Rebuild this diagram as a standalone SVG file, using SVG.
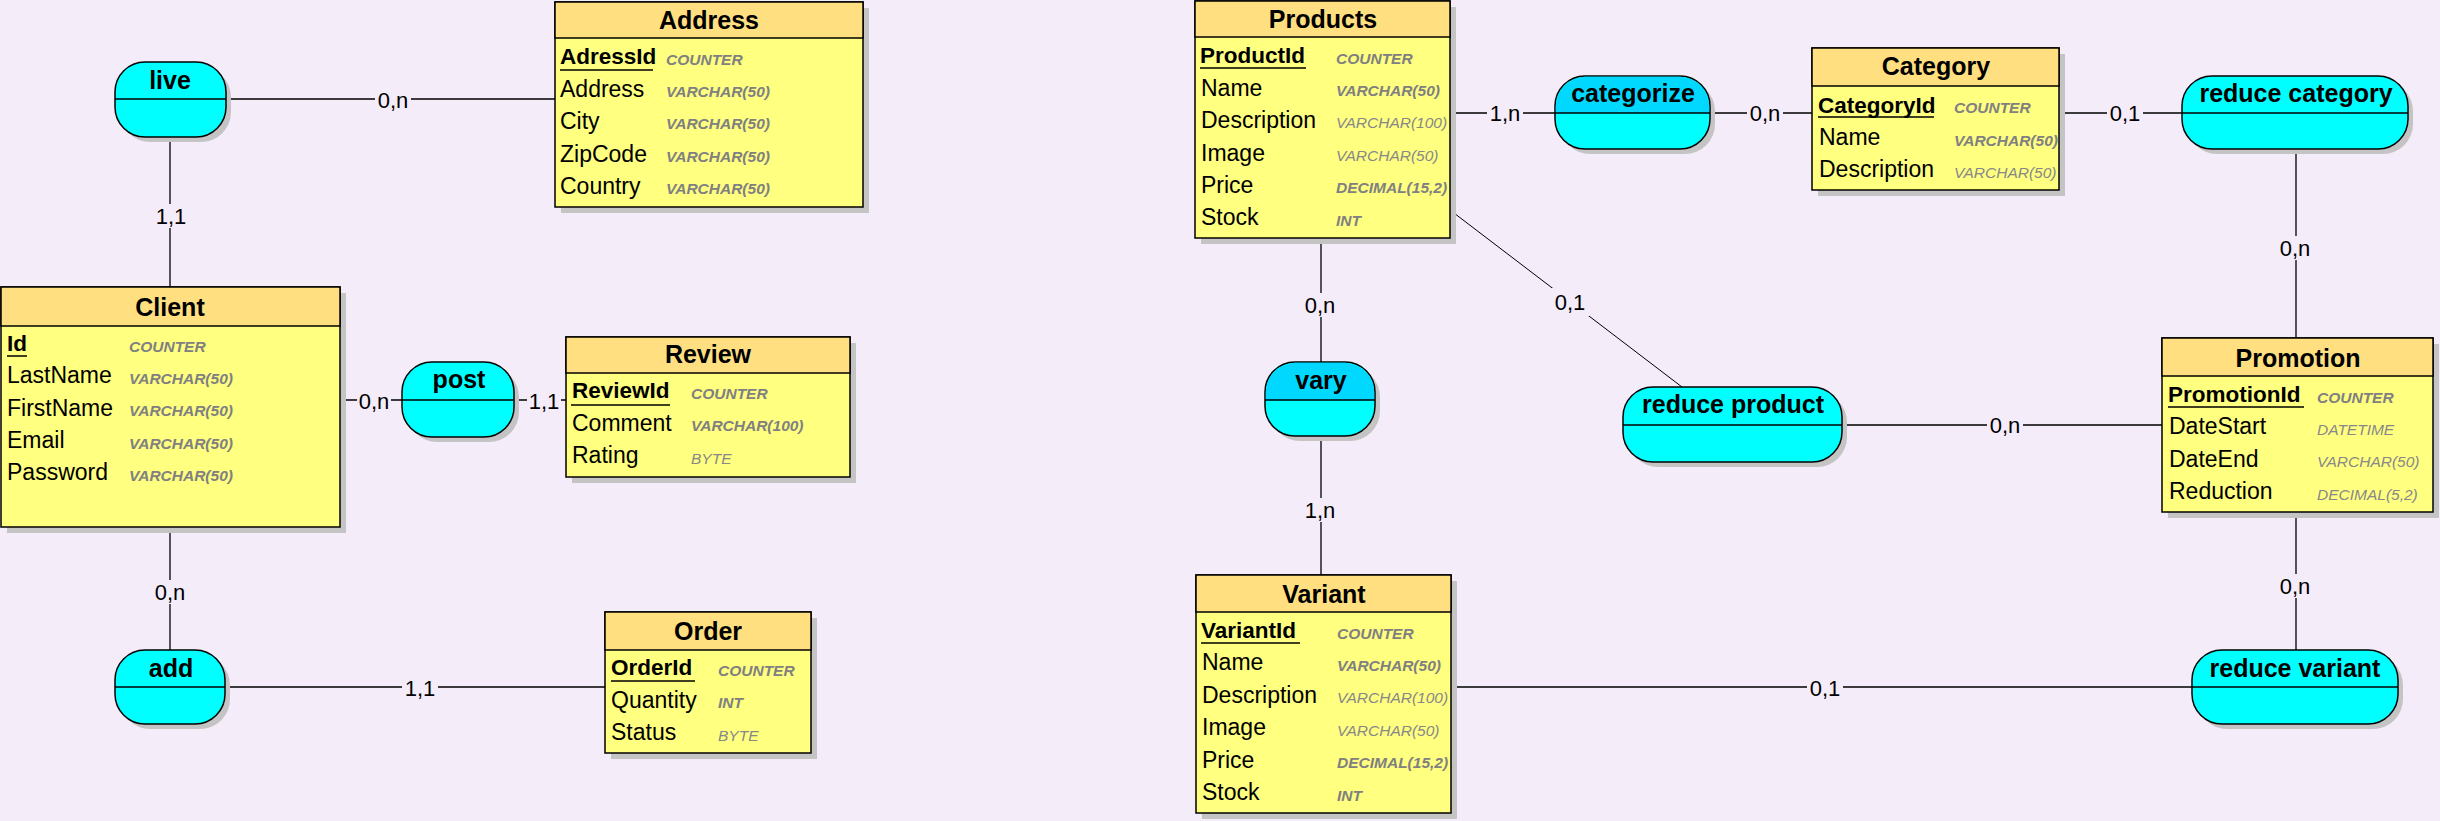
<svg xmlns="http://www.w3.org/2000/svg" width="2440" height="821" viewBox="0 0 2440 821">
<style>
.bg{fill:#f4ecf8}
.sh{fill:#c4c4c4}
.hd{fill:#ffdf80;stroke:#000;stroke-width:1.5}
.bd{fill:#ffff80;stroke:#000;stroke-width:1.5}
.as{fill:#00ffff;stroke:#000;stroke-width:1.5}
.ast{fill:#00d8ff}
.dv{stroke:#000;stroke-width:1.3}
.t{font-family:"Liberation Sans",Arial,sans-serif;font-weight:bold;font-size:25px;text-anchor:middle;fill:#000}
.f{font-family:"Liberation Sans",Arial,sans-serif;font-size:23px;fill:#000}
.k{font-family:"Liberation Sans",Arial,sans-serif;font-size:22.5px;font-weight:bold;fill:#000}
.ty{font-family:"Liberation Sans",Arial,sans-serif;font-size:15.5px;font-style:italic;font-weight:bold;fill:#808080}
.tl{font-family:"Liberation Sans",Arial,sans-serif;font-size:15.5px;font-style:italic;fill:#888888}
.ul{stroke:#000;stroke-width:1.5}
.c{stroke:#000;stroke-width:1.3;fill:none}
.cd{stroke:#000;stroke-width:1;fill:none}
.lb{font-family:"Liberation Sans",Arial,sans-serif;font-size:22px;text-anchor:middle;fill:#000}
</style>
<rect class="bg" x="0" y="0" width="2440" height="821"/>

<g id="connectors">
<line class="c" x1="226" y1="99" x2="555" y2="99"/>
<rect class="bg" x="375" y="89" width="36" height="22"/>
<text class="lb" x="393" y="108">0,n</text>
<line class="c" x1="170" y1="137" x2="170" y2="287"/>
<rect class="bg" x="153" y="204" width="36" height="24"/>
<text class="lb" x="171" y="224">1,1</text>
<line class="c" x1="340" y1="400" x2="402" y2="400"/>
<rect class="bg" x="357" y="390" width="34" height="22"/>
<text class="lb" x="374" y="409">0,n</text>
<line class="c" x1="514" y1="400" x2="566" y2="400"/>
<rect class="bg" x="527" y="390" width="34" height="22"/>
<text class="lb" x="544" y="409">1,1</text>
<line class="c" x1="170" y1="527" x2="170" y2="650"/>
<rect class="bg" x="152" y="580" width="36" height="24"/>
<text class="lb" x="170" y="600">0,n</text>
<line class="c" x1="225" y1="687" x2="605" y2="687"/>
<rect class="bg" x="402" y="677" width="36" height="22"/>
<text class="lb" x="420" y="696">1,1</text>
<line class="c" x1="1450" y1="113" x2="1555" y2="113"/>
<rect class="bg" x="1487" y="103" width="36" height="22"/>
<text class="lb" x="1505" y="121">1,n</text>
<line class="c" x1="1710" y1="113" x2="1812" y2="113"/>
<rect class="bg" x="1747" y="103" width="36" height="22"/>
<text class="lb" x="1765" y="121">0,n</text>
<line class="c" x1="2059" y1="113" x2="2182" y2="113"/>
<rect class="bg" x="2107" y="103" width="36" height="22"/>
<text class="lb" x="2125" y="121">0,1</text>
<line class="c" x1="2296" y1="149" x2="2296" y2="338"/>
<rect class="bg" x="2277" y="236" width="36" height="24"/>
<text class="lb" x="2295" y="256">0,n</text>
<line class="c" x1="1321" y1="238" x2="1321" y2="362"/>
<rect class="bg" x="1302" y="293" width="36" height="24"/>
<text class="lb" x="1320" y="313">0,n</text>
<line class="c" x1="1321" y1="436" x2="1321" y2="575"/>
<rect class="bg" x="1302" y="498" width="36" height="24"/>
<text class="lb" x="1320" y="518">1,n</text>
<line class="cd" x1="1450" y1="210" x2="1682" y2="387"/>
<rect class="bg" x="1550" y="288" width="40" height="28"/>
<text class="lb" x="1570" y="310">0,1</text>
<line class="c" x1="1842" y1="425" x2="2162" y2="425"/>
<rect class="bg" x="1987" y="415" width="36" height="22"/>
<text class="lb" x="2005" y="433">0,n</text>
<line class="c" x1="2296" y1="512" x2="2296" y2="650"/>
<rect class="bg" x="2277" y="574" width="36" height="24"/>
<text class="lb" x="2295" y="594">0,n</text>
<line class="c" x1="1451" y1="687" x2="2192" y2="687"/>
<rect class="bg" x="1807" y="677" width="36" height="22"/>
<text class="lb" x="1825" y="696">0,1</text>
</g>

<g id="address">
<rect class="sh" x="561" y="8" width="308" height="205"/>
<rect class="bd" x="555" y="2" width="308" height="205"/>
<rect class="hd" x="555" y="2" width="308" height="36"/>
<text class="t" x="709" y="29">Address</text>
<text class="k" x="560" y="64">AdressId</text><line class="ul" x1="560" y1="70" x2="653" y2="70"/>
<text class="ty" x="666" y="65">COUNTER</text>
<text class="f" x="560" y="97">Address</text><text class="ty" x="666" y="97">VARCHAR(50)</text>
<text class="f" x="560" y="129">City</text><text class="ty" x="666" y="129">VARCHAR(50)</text>
<text class="f" x="560" y="162">ZipCode</text><text class="ty" x="666" y="162">VARCHAR(50)</text>
<text class="f" x="560" y="194">Country</text><text class="ty" x="666" y="194">VARCHAR(50)</text>
</g>

<g id="client">
<rect class="sh" x="7" y="293" width="339" height="240"/>
<rect class="bd" x="1" y="287" width="339" height="240"/>
<rect class="hd" x="1" y="287" width="339" height="39"/>
<text class="t" x="170" y="316">Client</text>
<text class="k" x="7" y="351">Id</text><line class="ul" x1="7" y1="356" x2="27" y2="356"/>
<text class="ty" x="129" y="352">COUNTER</text>
<text class="f" x="7" y="383">LastName</text><text class="ty" x="129" y="384">VARCHAR(50)</text>
<text class="f" x="7" y="416">FirstName</text><text class="ty" x="129" y="416">VARCHAR(50)</text>
<text class="f" x="7" y="448">Email</text><text class="ty" x="129" y="449">VARCHAR(50)</text>
<text class="f" x="7" y="480">Password</text><text class="ty" x="129" y="481">VARCHAR(50)</text>
</g>

<g id="review">
<rect class="sh" x="572" y="343" width="284" height="140"/>
<rect class="bd" x="566" y="337" width="284" height="140"/>
<rect class="hd" x="566" y="337" width="284" height="36"/>
<text class="t" x="708" y="363">Review</text>
<text class="k" x="572" y="398">ReviewId</text><line class="ul" x1="571" y1="405" x2="670" y2="405"/>
<text class="ty" x="691" y="399">COUNTER</text>
<text class="f" x="572" y="431">Comment</text><text class="ty" x="691" y="431">VARCHAR(100)</text>
<text class="f" x="572" y="463">Rating</text><text class="tl" x="691" y="464">BYTE</text>
</g>

<g id="order">
<rect class="sh" x="611" y="618" width="206" height="141"/>
<rect class="bd" x="605" y="612" width="206" height="141"/>
<rect class="hd" x="605" y="612" width="206" height="38"/>
<text class="t" x="708" y="640">Order</text>
<text class="k" x="611" y="675">OrderId</text><line class="ul" x1="611" y1="681" x2="695" y2="681"/>
<text class="ty" x="718" y="676">COUNTER</text>
<text class="f" x="611" y="708">Quantity</text><text class="ty" x="718" y="708">INT</text>
<text class="f" x="611" y="740">Status</text><text class="tl" x="718" y="741">BYTE</text>
</g>

<g id="products">
<rect class="sh" x="1201" y="7" width="255" height="237"/>
<rect class="bd" x="1195" y="1" width="255" height="237"/>
<rect class="hd" x="1195" y="1" width="255" height="36"/>
<text class="t" x="1323" y="28">Products</text>
<text class="k" x="1200" y="63">ProductId</text><line class="ul" x1="1200" y1="68" x2="1306" y2="68"/>
<text class="ty" x="1336" y="64">COUNTER</text>
<text class="f" x="1201" y="96">Name</text><text class="ty" x="1336" y="96">VARCHAR(50)</text>
<text class="f" x="1201" y="128">Description</text><text class="tl" x="1336" y="128">VARCHAR(100)</text>
<text class="f" x="1201" y="161">Image</text><text class="tl" x="1336" y="161">VARCHAR(50)</text>
<text class="f" x="1201" y="193">Price</text><text class="ty" x="1336" y="193">DECIMAL(15,2)</text>
<text class="f" x="1201" y="225">Stock</text><text class="ty" x="1336" y="226">INT</text>
</g>

<g id="category">
<rect class="sh" x="1818" y="54" width="247" height="142"/>
<rect class="bd" x="1812" y="48" width="247" height="142"/>
<rect class="hd" x="1812" y="48" width="247" height="38"/>
<text class="t" x="1936" y="75">Category</text>
<text class="k" x="1818" y="113">CategoryId</text><line class="ul" x1="1818" y1="117" x2="1934" y2="117"/>
<text class="ty" x="1954" y="113">COUNTER</text>
<text class="f" x="1819" y="145">Name</text><text class="ty" x="1954" y="146">VARCHAR(50)</text>
<text class="f" x="1819" y="177">Description</text><text class="tl" x="1954" y="178">VARCHAR(50)</text>
</g>

<g id="promotion">
<rect class="sh" x="2168" y="344" width="271" height="174"/>
<rect class="bd" x="2162" y="338" width="271" height="174"/>
<rect class="hd" x="2162" y="338" width="271" height="38"/>
<text class="t" x="2298" y="367">Promotion</text>
<text class="k" x="2168" y="402">PromotionId</text><line class="ul" x1="2168" y1="407" x2="2304" y2="407"/>
<text class="ty" x="2317" y="403">COUNTER</text>
<text class="f" x="2169" y="434">DateStart</text><text class="tl" x="2317" y="435">DATETIME</text>
<text class="f" x="2169" y="467">DateEnd</text><text class="tl" x="2317" y="467">VARCHAR(50)</text>
<text class="f" x="2169" y="499">Reduction</text><text class="tl" x="2317" y="500">DECIMAL(5,2)</text>
</g>

<g id="variant">
<rect class="sh" x="1202" y="581" width="255" height="238"/>
<rect class="bd" x="1196" y="575" width="255" height="238"/>
<rect class="hd" x="1196" y="575" width="255" height="37"/>
<text class="t" x="1324" y="603">Variant</text>
<text class="k" x="1201" y="638">VariantId</text><line class="ul" x1="1201" y1="643" x2="1300" y2="643"/>
<text class="ty" x="1337" y="639">COUNTER</text>
<text class="f" x="1202" y="670">Name</text><text class="ty" x="1337" y="671">VARCHAR(50)</text>
<text class="f" x="1202" y="703">Description</text><text class="tl" x="1337" y="703">VARCHAR(100)</text>
<text class="f" x="1202" y="735">Image</text><text class="tl" x="1337" y="736">VARCHAR(50)</text>
<text class="f" x="1202" y="768">Price</text><text class="ty" x="1337" y="768">DECIMAL(15,2)</text>
<text class="f" x="1202" y="800">Stock</text><text class="ty" x="1337" y="801">INT</text>
</g>

<g id="live">
<rect class="sh" x="120" y="67" width="111" height="75" rx="30"/>
<rect class="as" x="115" y="62" width="111" height="75" rx="30"/>
<line class="dv" x1="115" y1="99" x2="226" y2="99"/>
<text class="t" x="170" y="89">live</text>
</g>

<g id="post">
<rect class="sh" x="407" y="367" width="112" height="75" rx="30"/>
<rect class="as" x="402" y="362" width="112" height="75" rx="30"/>
<line class="dv" x1="402" y1="400" x2="514" y2="400"/>
<text class="t" x="459" y="388">post</text>
</g>

<g id="add">
<rect class="sh" x="120" y="655" width="110" height="74" rx="30"/>
<rect class="as" x="115" y="650" width="110" height="74" rx="30"/>
<line class="dv" x1="115" y1="687" x2="225" y2="687"/>
<text class="t" x="171" y="677">add</text>
</g>

<g id="categorize">
<rect class="sh" x="1560" y="81" width="155" height="73" rx="30"/>
<rect class="as" x="1555" y="76" width="155" height="73" rx="30"/>
<path class="ast" d="M1555.8,113 V106 A30,30 0 0 1 1585,76.8 H1680 A30,30 0 0 1 1709.2,106 V113 Z"/>
<line class="dv" x1="1555" y1="113" x2="1710" y2="113"/>
<text class="t" x="1633" y="102">categorize</text>
</g>

<g id="reduce-category">
<rect class="sh" x="2187" y="81" width="226" height="73" rx="30"/>
<rect class="as" x="2182" y="76" width="226" height="73" rx="30"/>
<line class="dv" x1="2182" y1="113" x2="2408" y2="113"/>
<text class="t" x="2296" y="102">reduce category</text>
</g>

<g id="vary">
<rect class="sh" x="1270" y="367" width="110" height="74" rx="30"/>
<rect class="as" x="1265" y="362" width="110" height="74" rx="30"/>
<path class="ast" d="M1265.8,400 V392 A30,30 0 0 1 1295,362.8 H1345 A30,30 0 0 1 1374.2,392 V400 Z"/>
<line class="dv" x1="1265" y1="400" x2="1375" y2="400"/>
<text class="t" x="1321" y="389">vary</text>
</g>

<g id="reduce-product">
<rect class="sh" x="1628" y="392" width="219" height="75" rx="30"/>
<rect class="as" x="1623" y="387" width="219" height="75" rx="30"/>
<line class="dv" x1="1623" y1="425" x2="1842" y2="425"/>
<text class="t" x="1733" y="413">reduce product</text>
</g>

<g id="reduce-variant">
<rect class="sh" x="2197" y="655" width="206" height="74" rx="30"/>
<rect class="as" x="2192" y="650" width="206" height="74" rx="30"/>
<line class="dv" x1="2192" y1="687" x2="2398" y2="687"/>
<text class="t" x="2295" y="677">reduce variant</text>
</g>
</svg>
